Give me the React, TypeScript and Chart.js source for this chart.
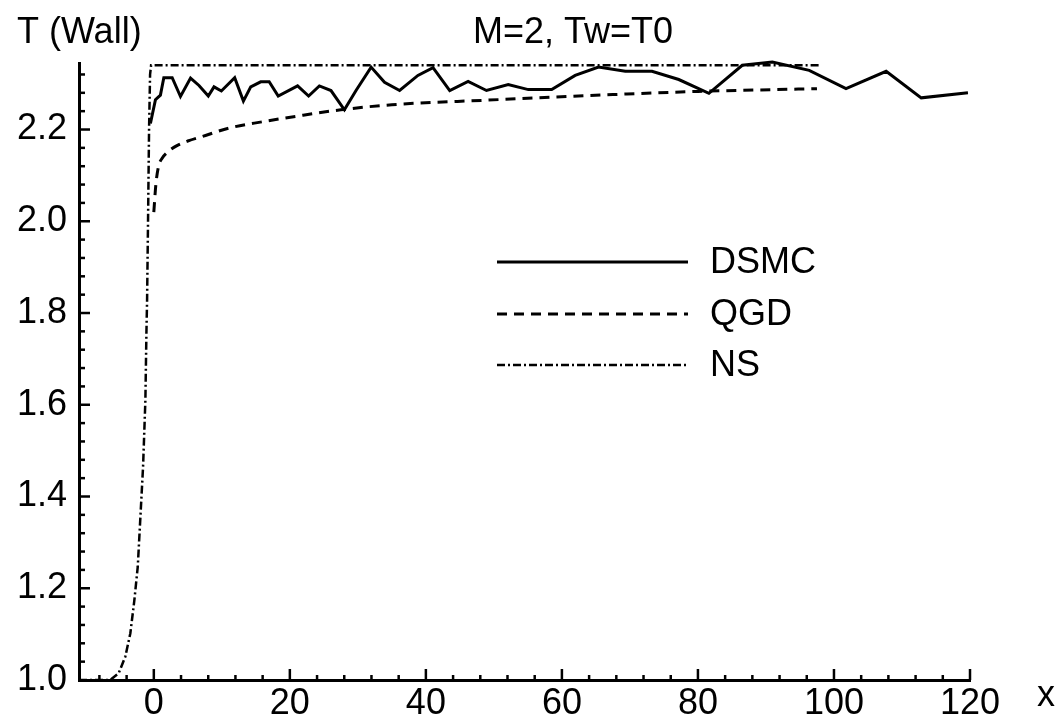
import React, { useEffect, useRef } from 'react';
import { Chart, registerables } from 'chart.js';

Chart.register(...registerables);

// ---- data ----
const dsmcX = [-0.5, 0.24, 0.97, 1.47, 2.7, 3.92, 5.4, 6.64, 8.01, 8.85, 9.93, 11.89, 13.17, 14.25, 15.72, 16.96, 18.29, 21.14, 22.76, 24.34, 26.05, 28.02, 29.73, 31.95, 33.92, 36.14, 38.83, 41.05, 43.51, 46.21, 48.91, 52.11, 55.06, 58.5, 61.95, 65.38, 69.32, 73.24, 77.18, 81.61, 86.52, 90.94, 96.36, 101.77, 107.67, 112.83, 119.7];
const dsmcY = [2.213, 2.265, 2.275, 2.313, 2.313, 2.272, 2.312, 2.296, 2.273, 2.293, 2.284, 2.313, 2.262, 2.293, 2.304, 2.304, 2.273, 2.295, 2.273, 2.295, 2.285, 2.243, 2.285, 2.336, 2.303, 2.285, 2.318, 2.335, 2.285, 2.305, 2.285, 2.298, 2.287, 2.287, 2.318, 2.336, 2.327, 2.327, 2.309, 2.279, 2.34, 2.347, 2.329, 2.289, 2.327, 2.269, 2.28];

const qgdX = [0, 0.3, 0.7, 1.2, 2.2, 3.4, 5, 7.6, 11, 16, 21, 27.5, 35, 49, 64, 80, 97.5];
const qgdY = [2.02, 2.08, 2.12, 2.137, 2.153, 2.165, 2.175, 2.187, 2.203, 2.217, 2.229, 2.243, 2.254, 2.264, 2.274, 2.283, 2.289];

const nsX = [-11, -8, -6.4, -5.16, -4.19, -3.45, -2.86, -2.36, -1.97, -1.58, -1.24, -1.09, -0.99, -0.85, -0.7, -0.55, -0.4, 97.8];
const nsY = [1.0, 1.0, 1.0, 1.015, 1.051, 1.102, 1.174, 1.247, 1.356, 1.465, 1.61, 1.755, 1.828, 2.0, 2.2, 2.32, 2.34, 2.34];

const seriesLabels = ['DSMC', 'QGD', 'NS'];
const xTickValues = [0, 20, 40, 60, 80, 100, 120];
const yTickValues = [1.0, 1.2, 1.4, 1.6, 1.8, 2.0, 2.2];
const titleText = 'M=2, Tw=T0';
const yAxisTitle = 'T (Wall)';
const xAxisTitle = 'x';

const X_MIN = -11;
const X_MAX = 120;
const Y_MIN = 1.0;
const Y_MAX = 2.345;

const FONT = '"Liberation Sans", Arial, Helvetica, sans-serif';
const FONT_SIZE = 36;

const toPoints = (xs: number[], ys: number[]) => xs.map((x, i) => ({ x, y: ys[i] }));

const decorPlugin = {
  id: 'decor',
  afterDraw(chart: any) {
    const ctx = chart.ctx as CanvasRenderingContext2D;
    const xs = chart.scales.x;
    const ys = chart.scales.y;
    const { left, bottom } = chart.chartArea;
    ctx.save();
    ctx.strokeStyle = '#000';
    ctx.fillStyle = '#000';
    ctx.lineWidth = 2.5;
    // x ticks (inward)
    for (let v = -8; v <= X_MAX + 0.001; v += 4) {
      const px = xs.getPixelForValue(v);
      const major = Math.abs(v % 20) < 1e-6;
      ctx.beginPath();
      ctx.moveTo(px, bottom);
      ctx.lineTo(px, bottom - (major ? 11 : 5));
      ctx.stroke();
    }
    // y ticks (inward)
    for (let k = 1; k <= 33; k++) {
      const v = Y_MIN + k * 0.04;
      if (v > Y_MAX) break;
      const py = ys.getPixelForValue(v);
      const major = k % 5 === 0;
      ctx.beginPath();
      ctx.moveTo(left, py);
      ctx.lineTo(left + (major ? 11 : 6), py);
      ctx.stroke();
    }
    // texts
    ctx.font = `${FONT_SIZE}px ${FONT}`;
    ctx.textBaseline = 'alphabetic';
    ctx.textAlign = 'left';
    ctx.fillText(yAxisTitle, 17, 43);
    ctx.textAlign = 'center';
    ctx.fillText(titleText, 573, 43);
    ctx.textAlign = 'left';
    ctx.fillText(xAxisTitle, 1037, 706);

    // legend
    const legendYs = [262, 314, 365];
    const order = [2, 1, 0]; // dataset index for DSMC, QGD, NS
    seriesLabels.forEach((label, i) => {
      const ds = chart.data.datasets[order[i]];
      ctx.save();
      ctx.strokeStyle = ds.borderColor;
      ctx.lineWidth = ds.borderWidth;
      ctx.setLineDash(ds.borderDash || []);
      ctx.beginPath();
      ctx.moveTo(497, legendYs[i]);
      ctx.lineTo(688, legendYs[i]);
      ctx.stroke();
      ctx.restore();
      ctx.textBaseline = 'middle';
      ctx.textAlign = 'left';
      ctx.fillText(label, 710, legendYs[i] + 1);
    });
    ctx.restore();
  },
};

export default function App() {
  const ref = useRef<HTMLCanvasElement | null>(null);

  useEffect(() => {
    if (!ref.current) return;
    const chart = new Chart(ref.current, {
      type: 'line',
      data: {
        datasets: [
          {
            label: seriesLabels[2],
            data: toPoints(nsX, nsY),
            borderColor: '#000',
            borderWidth: 2.5,
            borderDash: [8, 3, 2, 3],
            pointRadius: 0,
            fill: false,
            tension: 0,
            clip: false,
          },
          {
            label: seriesLabels[1],
            data: toPoints(qgdX, qgdY),
            borderColor: '#000',
            borderWidth: 3,
            borderDash: [10, 7],
            pointRadius: 0,
            fill: false,
            cubicInterpolationMode: 'monotone',
            clip: false,
          },
          {
            label: seriesLabels[0],
            data: toPoints(dsmcX, dsmcY),
            borderColor: '#000',
            borderWidth: 3,
            pointRadius: 0,
            fill: false,
            tension: 0,
            clip: false,
          },
        ],
      } as any,
      options: {
        responsive: false,
        animation: false,
        maintainAspectRatio: false,
        layout: { padding: { left: 0, top: 63, right: 94, bottom: 0 } },
        plugins: {
          legend: { display: false },
          title: { display: false },
          tooltip: { enabled: false },
        },
        scales: {
          x: {
            type: 'linear',
            min: X_MIN,
            max: X_MAX,
            grid: { display: false, drawTicks: false },
            border: { display: true, width: 3, color: '#000' },
            afterBuildTicks: (scale: any) => {
              scale.ticks = xTickValues.map((v) => ({ value: v }));
            },
            afterFit: (scale: any) => {
              scale.height = 44;
            },
            ticks: {
              color: '#000',
              padding: 2,
              maxRotation: 0,
              autoSkip: false,
              font: { family: FONT, size: FONT_SIZE },
              callback: (v: any) => String(v),
            },
          },
          y: {
            type: 'linear',
            min: Y_MIN,
            max: Y_MAX,
            grid: { display: false, drawTicks: false },
            border: { display: true, width: 3, color: '#000' },
            afterBuildTicks: (scale: any) => {
              scale.ticks = yTickValues.map((v) => ({ value: v }));
            },
            afterFit: (scale: any) => {
              scale.width = 79;
            },
            ticks: {
              color: '#000',
              padding: 12,
              autoSkip: false,
              font: { family: FONT, size: FONT_SIZE },
              callback: (v: any) => Number(v).toFixed(1),
            },
          },
        },
      } as any,
      plugins: [decorPlugin],
    });
    return () => chart.destroy();
  }, []);

  return (
    <div style={{ position: 'fixed', left: 0, top: 0, width: 1064, height: 724, background: '#fff' }}>
      <canvas ref={ref} width={1064} height={724} style={{ display: 'block' }} />
    </div>
  );
}
